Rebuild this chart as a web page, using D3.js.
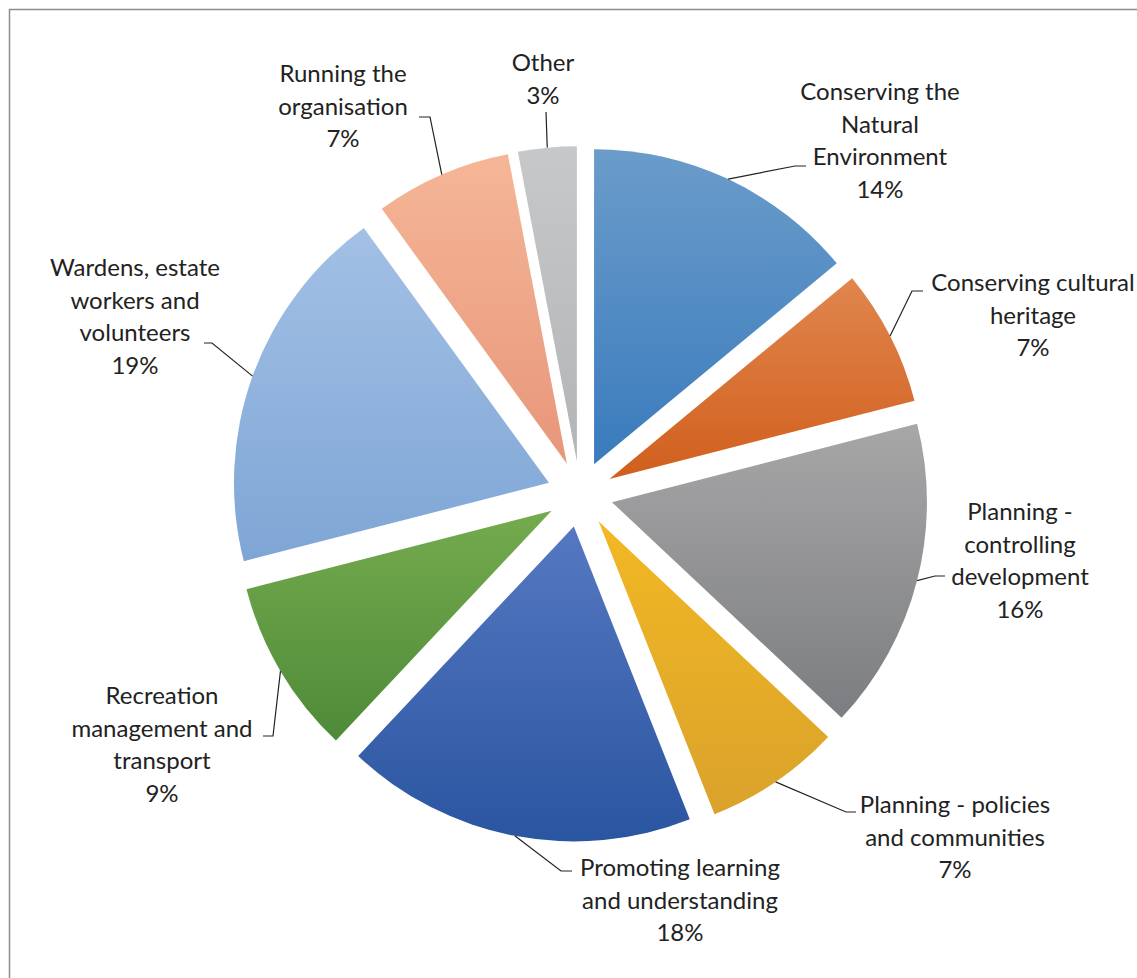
<!DOCTYPE html>
<html>
<head>
<meta charset="utf-8">
<script src="https://cdn.jsdelivr.net/npm/d3@7"></script>
<style>
  html, body { margin: 0; padding: 0; background: #fff; }
  svg { display: block; }
  .lbl { font-family: Lato, "Open Sans", sans-serif; font-size: 24px; fill: #222; }
</style>
</head>
<body>
<div id="chart"></div>
<script>
// chart data
var categories = [
  "Conserving the Natural Environment",
  "Conserving cultural heritage",
  "Planning - controlling development",
  "Planning - policies and communities",
  "Promoting learning and understanding",
  "Recreation management and transport",
  "Wardens, estate workers and volunteers",
  "Running the organisation",
  "Other"
];
var values = [14, 7, 16, 7, 18, 9, 19, 7, 3];
// words per label line
var wordsPerLine = [[2,1,1],[2,1],[2,1,1],[3,2],[2,2],[1,2,1],[2,2,1],[2,1],[1]];
// gradient colours, top -> bottom
var topColors = ["#6b9cca","#e0864e","#a7a7a8","#f2b824","#5678c2","#75ab4e","#a3c0e5","#f5b697","#c7c8ca"];
var bottomColors = ["#3a7bbd","#d15f1d","#7c7d80","#daa22b","#2a55a0","#4e8a38","#7ea6d5","#e8967a","#b3b4b6"];

var svgWidth = 1137;
var svgHeight = 978;
var cx = 580, cy = 494;
var radius = 315;
var explode = 33;
var lineH = 32.5;

// label layout: text centre x, first baseline, leader elbow + end
var labelPos = [
  {x: 880,  y: 100, elbow: [795, 166], end: [806, 166]},
  {x: 1033, y: 291, elbow: [912, 291], end: [923, 291]},
  {x: 1020, y: 520, elbow: [935, 576], end: [945, 576]},
  {x: 955,  y: 813, elbow: [846, 812], end: [856, 812]},
  {x: 680,  y: 876, elbow: [561, 871], end: [572, 871]},
  {x: 162,  y: 704, elbow: [273, 736], end: [263, 736]},
  {x: 135,  y: 276, elbow: [212, 343], end: [204, 343]},
  {x: 343,  y: 82,  elbow: [430, 117], end: [419, 117]},
  {x: 543,  y: 71,  elbow: [546, 112], end: [546, 112]}
];

var svg = d3.select("#chart")
  .append("svg")
  .attr("width", svgWidth)
  .attr("height", svgHeight);

// frame
svg.append("rect")
  .attr("x", 9.5).attr("y", 9.5)
  .attr("width", 1200).attr("height", 1100)
  .attr("fill", "#fff")
  .attr("stroke", "#8c8c8c")
  .attr("stroke-width", 1.5);

var defs = svg.append("defs");
values.forEach(function(v, i) {
  var g = defs.append("linearGradient")
    .attr("id", "grad" + i)
    .attr("x1", 0).attr("y1", 0).attr("x2", 0).attr("y2", 1);
  g.append("stop").attr("offset", "0%").attr("stop-color", topColors[i]);
  g.append("stop").attr("offset", "100%").attr("stop-color", bottomColors[i]);
});

var pie = d3.pie().sort(null).value(function(d) { return d; });
var arcs = pie(values);
var arc = d3.arc().innerRadius(0).outerRadius(radius);

function offset(d) {
  var a = (d.startAngle + d.endAngle) / 2;
  return [cx + explode * Math.sin(a), cy - explode * Math.cos(a)];
}

var chartGroup = svg.append("g");

chartGroup.selectAll("path.slice")
  .data(arcs)
  .enter()
  .append("path")
  .attr("class", "slice")
  .attr("transform", function(d) { var o = offset(d); return "translate(" + o[0] + "," + o[1] + ")"; })
  .attr("d", arc)
  .attr("fill", function(d, i) { return "url(#grad" + i + ")"; });

// leader lines
chartGroup.selectAll("polyline.leader")
  .data(arcs)
  .enter()
  .append("polyline")
  .attr("class", "leader")
  .attr("fill", "none")
  .attr("stroke", "#222")
  .attr("stroke-width", 1.2)
  .attr("points", function(d, i) {
    var o = offset(d);
    var a = (d.startAngle + d.endAngle) / 2;
    var s = [o[0] + radius * Math.sin(a), o[1] - radius * Math.cos(a)];
    var p = labelPos[i];
    return [s, p.elbow, p.end].map(function(q) { return q.join(","); }).join(" ");
  });

// labels
arcs.forEach(function(d, i) {
  var words = categories[i].split(" ");
  var lines = [];
  var k = 0;
  wordsPerLine[i].forEach(function(n) {
    lines.push(words.slice(k, k + n).join(" "));
    k += n;
  });
  lines.push(values[i] + "%");
  var t = svg.append("text")
    .attr("class", "lbl")
    .attr("text-anchor", "middle");
  lines.forEach(function(l, j) {
    t.append("tspan")
      .attr("x", labelPos[i].x)
      .attr("y", labelPos[i].y + j * lineH)
      .text(l);
  });
});
</script>
</body>
</html>
